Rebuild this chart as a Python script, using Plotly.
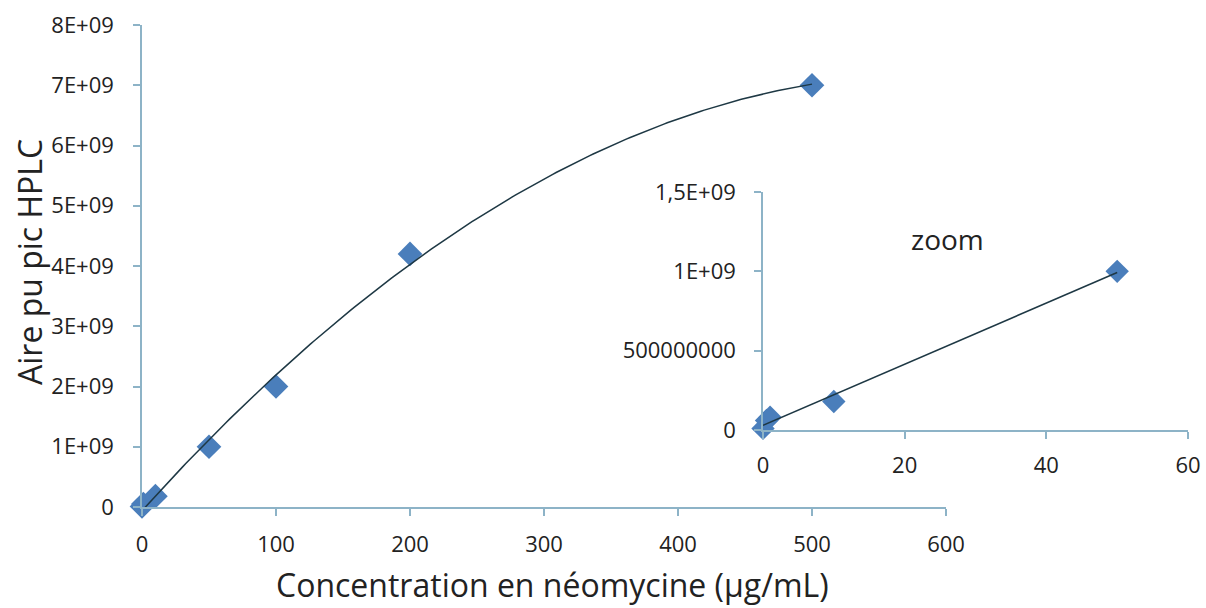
import numpy as np
import plotly.graph_objects as go

# Main calibration data
conc_main = [0, 1, 10, 50, 100, 200, 500]
area_main = [0.01e9, 0.05e9, 0.18e9, 1.0e9, 2.0e9, 4.2e9, 7.0e9]

# Zoom data
conc_zoom = [0, 0.5, 1, 10, 50]
area_zoom = [0.01e9, 0.06e9, 0.08e9, 0.18e9, 1.0e9]

main_yticks = [0, 1e9, 2e9, 3e9, 4e9, 5e9, 6e9, 7e9, 8e9]
main_yticktext = ["0", "1E+09", "2E+09", "3E+09", "4E+09", "5E+09", "6E+09", "7E+09", "8E+09"]
main_xticks = [0, 100, 200, 300, 400, 500, 600]
zoom_yticks = [0, 5e8, 1e9, 1.5e9]
zoom_yticktext = ["0", "500000000", "1E+09", "1,5E+09"]
zoom_xticks = [0, 20, 40, 60]

W, H = 1206, 608
MARKER = "#4a7ebb"
AXIS = "#8db3c7"
TXT = "#222222"
LINE = "#1e3844"
FONT = "Open Sans"

# trend lines (fits of the data, as in spreadsheet trendlines)
p2 = np.polyfit(conc_main, area_main, 2)
xf = np.linspace(min(conc_main), max(conc_main), 200)
yf = np.polyval(p2, xf)
p1 = np.polyfit(conc_zoom, area_zoom, 1)
xz = np.linspace(min(conc_zoom), max(conc_zoom), 50)
yz = np.polyval(p1, xz)

fig = go.Figure()
fig.add_trace(go.Scatter(x=conc_main, y=area_main, mode="markers",
                         marker=dict(symbol="diamond", size=19, color=MARKER),
                         xaxis="x", yaxis="y", showlegend=False, cliponaxis=False))
fig.add_trace(go.Scatter(x=xf, y=yf, mode="lines", line=dict(color=LINE, width=1.5),
                         xaxis="x", yaxis="y", showlegend=False, hoverinfo="skip"))
fig.add_trace(go.Scatter(x=conc_zoom, y=area_zoom, mode="markers",
                         marker=dict(symbol="diamond", size=18, color=MARKER),
                         xaxis="x2", yaxis="y2", showlegend=False, cliponaxis=False))
fig.add_trace(go.Scatter(x=xz, y=yz, mode="lines", line=dict(color=LINE, width=1.5),
                         xaxis="x2", yaxis="y2", showlegend=False, hoverinfo="skip"))

def px_x(p):
    return p / W

def px_y(p):
    return 1 - p / H

axis_common = dict(showgrid=False, zeroline=False, showline=True, linecolor=AXIS, linewidth=1.5,
                   ticks="outside", tickcolor=AXIS, ticklen=7, tickwidth=1.5, automargin=False,
                   tickfont=dict(family=FONT, size=22, color=TXT))

fig.update_layout(
    width=W, height=H, margin=dict(l=0, r=0, t=0, b=0, autoexpand=False),
    paper_bgcolor="white", plot_bgcolor="rgba(0,0,0,0)",
    xaxis=dict(domain=[px_x(142), px_x(946)], range=[0, 600], tickvals=main_xticks,
               anchor="y", ticklabelstandoff=10, **axis_common),
    yaxis=dict(domain=[px_y(507), px_y(25)], range=[0, 8e9], tickvals=main_yticks,
               ticktext=main_yticktext, anchor="x", ticklabelstandoff=15, **axis_common),
    xaxis2=dict(domain=[px_x(763), px_x(1188)], range=[0, 60], tickvals=zoom_xticks,
                anchor="y2", ticklabelstandoff=8, **axis_common),
    yaxis2=dict(domain=[px_y(430), px_y(192)], range=[0, 1.5e9], tickvals=zoom_yticks,
                ticktext=zoom_yticktext, anchor="x2", ticklabelstandoff=14, **axis_common),
    annotations=[
        dict(text="Concentration en néomycine (µg/mL)", x=px_x(552), y=px_y(584), xref="paper",
             yref="paper", xanchor="center", yanchor="middle", showarrow=False,
             font=dict(family=FONT, size=32, color=TXT)),
        dict(text="Aire pu pic HPLC", x=px_x(29), y=px_y(262), xref="paper", yref="paper",
             xanchor="center", yanchor="middle", showarrow=False, textangle=-90,
             font=dict(family=FONT, size=32, color=TXT)),
        dict(text="zoom", x=px_x(947), y=px_y(239), xref="paper", yref="paper",
             xanchor="center", yanchor="middle", showarrow=False,
             font=dict(family=FONT, size=28, color=TXT)),
    ],
)

fig.write_html("out.html", config={"displayModeBar": False},
               post_script="document.body.style.margin='0px';")
